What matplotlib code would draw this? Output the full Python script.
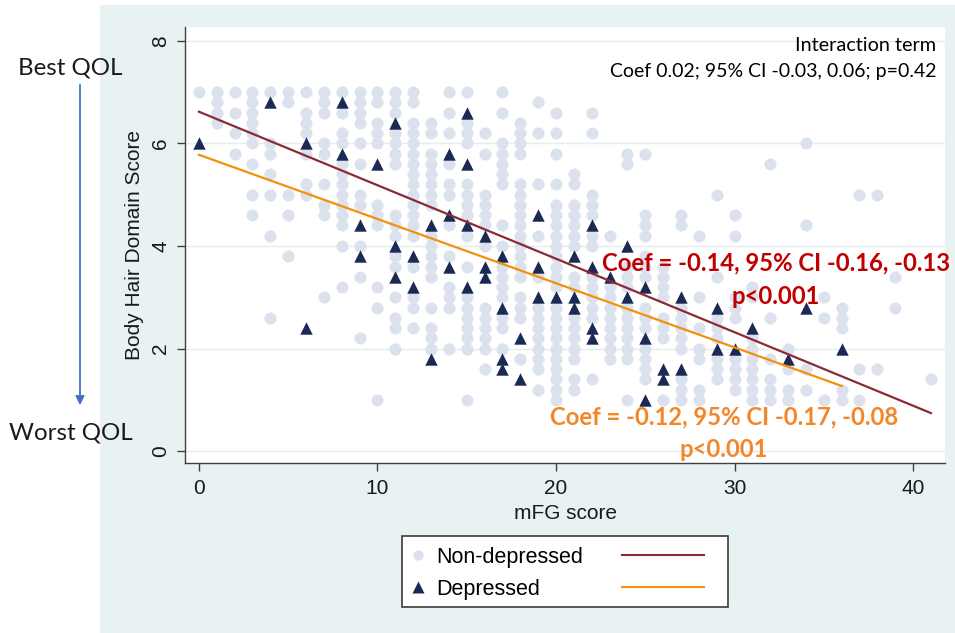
import numpy as np
import matplotlib
matplotlib.use("Agg")
import matplotlib.pyplot as plt
from matplotlib.lines import Line2D
from matplotlib.legend_handler import HandlerLine2D
from matplotlib.patches import Rectangle, FancyArrowPatch

# non-depressed: mFG score -> body hair domain scores seen in that column
nondep_cols = {
    0: [7.0],
    1: [7.0, 6.8, 6.6, 6.4],
    2: [7.0, 6.6, 6.2, 5.8],
    3: [7.0, 6.8, 6.6, 6.4, 6.2, 6.0, 5.6, 5.0, 4.6],
    4: [7.0, 6.0, 5.8, 5.4, 5.0, 4.2, 2.6],
    5: [7.0, 6.8, 5.0, 4.6, 3.8],
    6: [7.0, 6.6, 6.4, 6.2, 5.8, 5.2, 5.0],
    7: [7.0, 6.8, 6.6, 6.0, 5.8, 5.2, 4.8, 4.6, 3.0],
    8: [7.0, 6.6, 6.2, 6.0, 5.6, 5.4, 5.2, 5.0, 4.8, 4.6, 4.4, 4.0, 3.2],
    9: [7.0, 6.8, 6.6, 6.4, 6.0, 5.6, 5.0, 4.8, 4.0, 3.4, 2.2],
    10: [7.0, 6.8, 6.4, 6.2, 6.0, 4.8, 4.6, 4.4, 3.2, 2.8, 1.0],
    11: [7.0, 6.8, 6.6, 6.2, 6.0, 5.8, 5.6, 4.6, 4.4, 4.2, 3.8, 3.6, 3.0, 2.6, 2.4, 2.0],
    12: [7.0, 6.8, 6.4, 6.2, 6.0, 5.8, 5.6, 5.4, 5.2, 5.0, 4.8, 4.6, 4.4, 4.2, 3.6, 3.0, 2.8, 2.4],
    13: [6.4, 6.2, 5.8, 5.6, 5.4, 5.2, 5.0, 4.8, 4.2, 4.0, 3.8, 3.6, 3.4, 2.8, 2.4, 2.2, 2.0],
    14: [7.0, 6.6, 6.2, 5.6, 5.2, 5.0, 4.4, 3.8, 3.2, 3.0, 2.8, 2.0],
    15: [7.0, 6.4, 6.2, 6.0, 5.2, 5.0, 4.8, 4.6, 4.2, 3.6, 3.0, 2.8, 2.6, 2.4, 2.2, 2.0, 1.0],
    16: [6.2, 5.8, 5.0, 4.8, 4.6, 4.4, 4.0, 2.8, 2.6, 2.4, 2.2, 2.0, 1.6],
    17: [7.0, 6.6, 6.0, 5.8, 5.6, 5.4, 5.2, 4.4, 4.0, 3.6, 3.4, 3.2, 3.0, 2.6, 2.4, 2.0],
    18: [6.4, 6.2, 6.0, 5.8, 5.2, 5.0, 4.8, 4.6, 4.4, 4.2, 4.0, 3.8, 3.6, 3.4, 3.0, 2.8, 2.6, 1.8],
    19: [6.8, 6.2, 5.2, 4.2, 3.4, 2.8, 2.6, 2.4, 2.2, 2.0, 1.8, 1.6, 1.2],
    20: [6.6, 6.2, 5.8, 5.2, 4.8, 4.6, 4.4, 4.2, 4.0, 3.8, 3.6, 3.4, 3.2, 2.8, 2.6, 2.4,
         2.2, 2.0, 1.8, 1.6, 1.4, 1.2, 1.0],
    21: [5.4, 5.2, 4.8, 4.6, 4.4, 4.2, 4.0, 3.4, 3.2, 2.6, 2.4, 2.2, 2.0, 1.8, 1.4, 1.2],
    22: [6.6, 6.2, 5.0, 4.8, 4.6, 4.2, 4.0, 3.4, 3.2, 3.0, 2.8, 2.6, 1.4],
    23: [4.2, 3.2, 3.0, 2.8, 2.6, 2.4, 2.2, 2.0, 1.8],
    24: [5.8, 5.6, 3.6, 3.4, 3.2, 2.8, 2.6, 2.4, 2.2, 2.0, 1.8, 1.0],
    25: [5.8, 4.6, 4.4, 4.2, 3.8, 3.6, 3.4, 2.8, 2.6, 2.4, 2.0, 1.8, 1.6, 1.4],
    26: [3.6, 3.4, 3.2, 3.0, 2.6, 2.4, 2.2, 1.0],
    27: [4.6, 4.4, 2.8, 2.6, 2.4, 2.2, 2.0, 1.4, 1.2, 1.0],
    28: [4.2, 3.0, 2.4, 2.0, 1.8, 1.2, 1.0],
    29: [5.0, 3.4, 2.6, 2.4, 2.2, 1.8, 1.6, 1.4],
    30: [4.6, 4.2, 3.0, 2.8, 2.6, 1.8, 1.6, 1.4, 1.2],
    31: [3.2, 3.0, 2.2, 2.0, 1.8, 1.6, 1.4, 1.2, 1.0],
    32: [5.6, 2.6, 1.8, 1.4, 1.2, 1.0],
    33: [2.0, 1.6, 1.2, 1.0],
    34: [6.0, 4.4, 1.6, 1.2],
    35: [3.0, 2.6, 1.0],
    36: [2.8, 2.6, 2.4, 1.2, 1.0],
    37: [5.0, 1.6, 1.0],
    38: [5.0, 1.6],
    39: [3.4, 2.8],
    41: [1.4],
}

# depressed
dep_x = [0, 4, 6, 6, 8, 8, 9, 9, 10, 11, 11, 11, 12, 12, 13, 13, 14, 14, 14,
         15, 15, 15, 15, 16, 16, 16, 17, 17, 17, 17, 18, 18, 19, 19, 19, 20,
         21, 21, 21, 22, 22, 22, 22, 23, 24, 24, 25, 25, 25, 26, 26, 27, 27,
         29, 29, 30, 31, 33, 34, 36]
dep_y = [6.0, 6.8, 6.0, 2.4, 6.8, 5.8, 4.4, 3.8, 5.6, 6.4, 4.0, 3.4, 3.8, 3.2, 4.4, 1.8, 5.8, 4.6, 3.6,
         6.6, 5.6, 4.4, 3.2, 4.2, 3.6, 3.4, 3.8, 2.8, 1.8, 1.6, 2.2, 1.4, 4.6, 3.6, 3.0, 3.0,
         3.8, 3.0, 2.8, 4.4, 3.6, 2.4, 2.2, 3.4, 4.0, 3.0, 3.2, 2.2, 1.0, 1.6, 1.4, 3.0, 1.6,
         2.8, 2.0, 2.0, 2.4, 1.8, 2.8, 2.0]

# fitted lines (intercept, slope, x from, x to)
fit_nondep = (6.62, -0.1434, 0, 41)
fit_dep = (5.78, -0.1253, 0, 36)

x_ticks = [0, 10, 20, 30, 40]
y_ticks = [0, 2, 4, 6, 8]

BG = "#e8f2f3"
CIRCLE = "#dce1ee"
NAVY = "#1b2a55"
RED_LINE = "#8b2a35"
ORANGE_LINE = "#f2910a"
RED_TXT = "#c00000"
ORANGE_TXT = "#f4862a"

plt.rcParams["font.family"] = "Liberation Sans"

W, H = 955, 633
fig = plt.figure(figsize=(W / 100, H / 100), dpi=100)
fig.add_artist(Rectangle((100 / W, 0), 855 / W, 628 / H, transform=fig.transFigure,
                         facecolor=BG, edgecolor="none", zorder=-1))

ax = fig.add_axes([185 / W, 170 / H, 760 / W, 436 / H])
ax.set_facecolor("white")

nd_x = [x for x, ys in nondep_cols.items() for _ in ys]
nd_y = [y for ys in nondep_cols.values() for y in ys]
ax.scatter(nd_x, nd_y, s=76, marker="o", color=CIRCLE, linewidths=0, zorder=2)
ax.scatter(dep_x, dep_y, s=80, marker="^", color=NAVY, linewidths=0, zorder=3)

for (b0, b1, x0, x1), col in [(fit_nondep, RED_LINE), (fit_dep, ORANGE_LINE)]:
    xs = np.array([x0, x1])
    ax.plot(xs, b0 + b1 * xs, color=col, lw=1.6, zorder=4)

ax.set_xlim(-0.78, 41.79)
ax.set_ylim(-0.234, 8.273)
ax.set_xticks(x_ticks)
ax.set_yticks(y_ticks)
ax.grid(axis="y", color="#e3eeef", lw=1)
ax.set_axisbelow(True)
for s in ["top", "right"]:
    ax.spines[s].set_visible(False)
for s in ["left", "bottom"]:
    ax.spines[s].set_color("#404040")
    ax.spines[s].set_linewidth(1)
ax.tick_params(axis="both", direction="out", length=5.5, width=1, color="#404040",
               labelsize=15, labelcolor="#1a1a1a")
ax.tick_params(axis="x", pad=6)
ax.tick_params(axis="y", pad=5, labelrotation=90)
for lab in ax.get_yticklabels():
    lab.set_va("center")

ax.set_xlabel("mFG score", fontsize=15, labelpad=4, color="#1a1a1a")
ax.set_ylabel("Body Hair Domain Score", fontsize=15, labelpad=5, color="#1a1a1a")

# annotations
cal = "Lato"
ax.text(41.29, 7.92, "Interaction term", ha="right", va="center", fontsize=14.3, family=cal)
ax.text(41.29, 7.40, "Coef 0.02; 95% CI -0.03, 0.06; p=0.42", ha="right", va="center",
        fontsize=14, family=cal)
ax.text(32.3, 3.67, "Coef = -0.14, 95% CI -0.16, -0.13", ha="center", va="center",
        fontsize=17.2, fontweight="bold", family=cal, color=RED_TXT, clip_on=False, zorder=6)
ax.text(32.3, 3.02, "p<0.001", ha="center", va="center",
        fontsize=17.2, fontweight="bold", family=cal, color=RED_TXT, zorder=6)
ax.text(29.4, 0.66, "Coef = -0.12, 95% CI -0.17, -0.08", ha="center", va="center",
        fontsize=17.2, fontweight="bold", family=cal, color=ORANGE_TXT, zorder=6)
ax.text(29.4, 0.02, "p<0.001", ha="center", va="center",
        fontsize=17.2, fontweight="bold", family=cal, color=ORANGE_TXT, zorder=6)

fig.text(70 / W, 1 - 68 / H, "Best QOL", ha="center", va="center", fontsize=17.4,
         family=cal, color="#1a1a1a")
fig.text(71 / W, 1 - 433 / H, "Worst QOL", ha="center", va="center", fontsize=17.4,
         family=cal, color="#1a1a1a")
fig.add_artist(FancyArrowPatch((80 / W, 1 - 82 / H), (80 / W, 1 - 408 / H),
                               transform=fig.transFigure, arrowstyle="-|>",
                               mutation_scale=13, color="#4472c4", lw=1.3))


# legend: marker + label, then the fit line sample on the right
class LongLine(HandlerLine2D):
    def create_artists(self, legend, orig_handle, xdescent, ydescent, width, height, fontsize, trans):
        return super().create_artists(legend, orig_handle, xdescent, ydescent,
                                      width * 3.8, height, fontsize, trans)


fig.add_artist(Rectangle((402 / W, 26 / H), 326 / W, 71 / H, transform=fig.transFigure,
                         facecolor="white", edgecolor="#3c3c3c", lw=1.2, zorder=1))
h_nd = Line2D([], [], ls="none", marker="o", ms=7.5, mfc=CIRCLE, mec="none")
h_d = Line2D([], [], ls="none", marker="^", ms=9, mfc=NAVY, mec="none")
l_nd = Line2D([], [], color=RED_LINE, lw=1.5)
l_d = Line2D([], [], color=ORANGE_LINE, lw=1.5)
fig.legend([h_nd, h_d, l_nd, l_d], ["Non-depressed", "Depressed", "", ""], ncol=2,
           loc="upper left", bbox_to_anchor=(407 / W, 1 - 547 / H), frameon=False,
           handlelength=1.0, handletextpad=0.35, columnspacing=1.81, labelspacing=0.51,
           borderpad=0, borderaxespad=0, fontsize=15.5,
           handler_map={l_nd: LongLine(), l_d: LongLine()})

fig.savefig("out.png", dpi=100)
